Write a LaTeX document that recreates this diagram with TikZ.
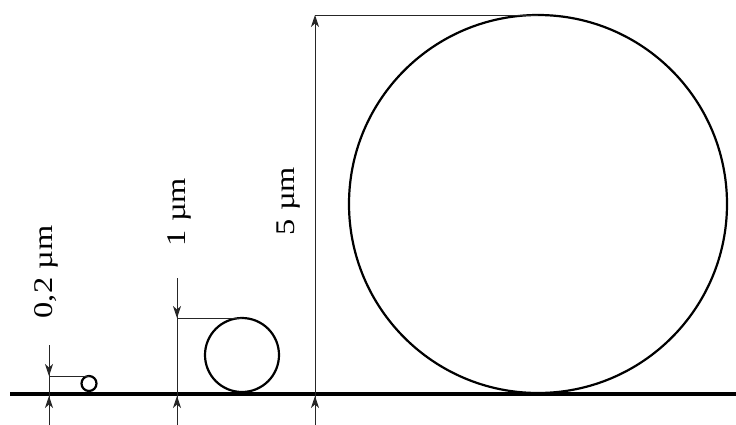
\documentclass[tikz,border=0pt]{standalone}
\usepackage{fontspec}
\setmainfont{Liberation Serif}
\usetikzlibrary{arrows.meta}
\newcommand{\dimtext}[1]{\scalebox{1.2}[1]{#1}}
\begin{document}
\begin{tikzpicture}[x=1pt,y=-1pt,
  dim/.style={line width=0.9pt, black!85},
  tipped/.style={-{Stealth[length=12pt,width=8pt,inset=3.5pt]}},
  particle/.style={circle,draw,line width=2.2pt,inner sep=0pt,outer sep=0pt},
  lbl/.style={rotate=90,anchor=base,inner sep=0pt,font=\fontsize{27}{30}\selectfont}]
\useasboundingbox (0,0) rectangle (736,425);
% substrate
\coordinate (bl) at (10,394);
\coordinate (br) at (736,394);
\draw[line width=4pt] (bl) -- (br);
% particles
\node[particle,minimum size=15pt] (s) at (89,383.5) {};
\node[particle,minimum size=74pt] (m) at (242,355) {};
\node[particle,minimum size=378pt] (b) at (538,204) {};
% small dimension
\coordinate (s0) at (49,345);
\coordinate (s1) at (49,425);
\coordinate (s2) at (49,396);
\draw[dim] (s0) -- (s1);
\draw[dim,tipped] (s0) -- (s0 |- s.north);
\draw[dim] (s0 |- s.north) -- (s.north);
\draw[dim,tipped] (s1) -- (s2);
\node[lbl] (sl) at (52,272) {\dimtext{0,2 µm}};
% medium dimension
\coordinate (m0) at (177,278);
\coordinate (m1) at (177,425);
\coordinate (m2) at (177,396);
\draw[dim] (m0) -- (m1);
\draw[dim,tipped] (m0) -- (m0 |- m.north);
\draw[dim] (m0 |- m.north) -- (m.north);
\draw[dim,tipped] (m1) -- (m2);
\node[lbl] (ml) at (185,212) {\dimtext{1 µm}};
% big dimension
\coordinate (b0) at (315,394);
\coordinate (b1) at (315,425);
\coordinate (b2) at (315,396);
\draw[dim,tipped] (b0) -- (b0 |- b.north);
\draw[dim] (b0 |- b.north) -- (b.north);
\draw[dim] (b0) -- (b1);
\draw[dim,tipped] (b1) -- (b2);
\node[lbl] (bl2) at (294,201) {\dimtext{5 µm}};
\end{tikzpicture}
\end{document}
